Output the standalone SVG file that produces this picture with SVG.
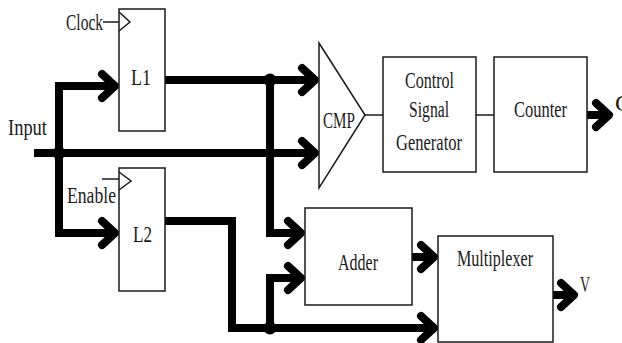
<svg xmlns="http://www.w3.org/2000/svg" width="622" height="343" viewBox="0 0 622 343">
  <style>
    .box { fill: #fff; stroke: #1a1a1a; stroke-width: 1.5; }
    .thin { fill: none; stroke: #1a1a1a; stroke-width: 1.5; }
    .bus { fill: none; stroke: #000; stroke-width: 8; stroke-linejoin: miter; }
    .chev { fill: none; stroke: #000; stroke-width: 8; stroke-linecap: round; stroke-linejoin: round; }
    .dot { fill: #000; }
    text { font-family: "Liberation Serif", "DejaVu Serif", serif; font-size: 24px; fill: #1a1a1a; }
  </style>
  <defs>
    <path id="head" class="chev" d="M-13,-12 L0,0 L-13,12"/>
  </defs>

  <rect width="622" height="343" fill="#fff"/>

  <!-- wiring -->
  <g id="connectors">
    <path class="bus" d="M34,153 H315"/>
    <path class="bus" d="M115,86 H59 V233 H115"/>
    <path class="bus" d="M165,80 H315"/>
    <path class="bus" d="M270,80 V233 H301"/>
    <path class="bus" d="M165,221 H232 V328 H434"/>
    <path class="bus" d="M270,328 V278 H301"/>
    <path class="bus" d="M412,257 H434"/>
    <path class="bus" d="M553,295 H574"/>
    <path class="bus" d="M587,115 H609"/>
    <use href="#head" x="115" y="86"/>
    <use href="#head" x="115" y="233"/>
    <use href="#head" x="315" y="80"/>
    <use href="#head" x="315" y="153"/>
    <use href="#head" x="301" y="233"/>
    <use href="#head" x="301" y="278"/>
    <use href="#head" x="434" y="257"/>
    <use href="#head" x="434" y="328"/>
    <use href="#head" x="574" y="295"/>
    <use href="#head" x="609" y="115"/>
    <circle class="dot" cx="59" cy="153" r="6.5"/>
    <circle class="dot" cx="270" cy="80" r="6.5"/>
    <circle class="dot" cx="270" cy="328" r="6.5"/>
    <path class="thin" d="M365,115 H383"/>
    <path class="thin" d="M476,115 H494"/>
    <path class="thin" d="M103,22 H119"/>
    <path class="thin" d="M102,179 H119"/>
  </g>

  <g id="input-label">
    <text x="8" y="135" textLength="39" lengthAdjust="spacingAndGlyphs">Input</text>
  </g>

  <g id="latch-l1">
    <rect class="box" x="119" y="9" width="46" height="122"/>
    <polyline class="thin" points="119,12 130,22 119,31"/>
    <text x="131" y="85" textLength="20" lengthAdjust="spacingAndGlyphs">L1</text>
  </g>
  <g id="clock-label">
    <text x="66" y="30" textLength="37" lengthAdjust="spacingAndGlyphs">Clock</text>
  </g>

  <g id="latch-l2">
    <rect class="box" x="119" y="168" width="46" height="123"/>
    <polyline class="thin" points="119,172 131,181 119,190"/>
    <text x="133" y="242" textLength="19" lengthAdjust="spacingAndGlyphs">L2</text>
  </g>
  <g id="enable-label">
    <text x="67" y="203" textLength="49" lengthAdjust="spacingAndGlyphs">Enable</text>
  </g>

  <g id="cmp">
    <polygon class="box" points="319,43 365,115 319,188"/>
    <text x="323" y="128" textLength="32" lengthAdjust="spacingAndGlyphs">CMP</text>
  </g>

  <g id="control-signal-generator">
    <rect class="box" x="383" y="57" width="93" height="115"/>
    <text x="405" y="88" textLength="49" lengthAdjust="spacingAndGlyphs">Control</text>
    <text x="409" y="117" textLength="40" lengthAdjust="spacingAndGlyphs">Signal</text>
    <text x="396" y="150" textLength="66" lengthAdjust="spacingAndGlyphs">Generator</text>
  </g>

  <g id="counter">
    <rect class="box" x="494" y="57" width="93" height="115"/>
    <text x="514" y="117" textLength="53" lengthAdjust="spacingAndGlyphs">Counter</text>
  </g>
  <g id="counter-out-label">
    <text x="615" y="111">C</text>
  </g>

  <g id="adder">
    <rect class="box" x="305" y="208" width="107" height="97"/>
    <text x="338" y="270" textLength="40" lengthAdjust="spacingAndGlyphs">Adder</text>
  </g>

  <g id="multiplexer">
    <rect class="box" x="438" y="236" width="115" height="106"/>
    <text x="457" y="266" textLength="76" lengthAdjust="spacingAndGlyphs">Multiplexer</text>
  </g>
  <g id="v-label">
    <text x="580" y="292" textLength="10" lengthAdjust="spacingAndGlyphs">V</text>
  </g>
</svg>
